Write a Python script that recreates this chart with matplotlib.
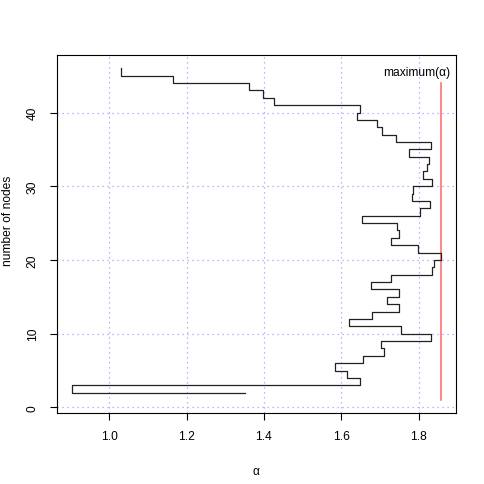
import matplotlib
matplotlib.use("Agg")
import matplotlib.pyplot as plt
import numpy as np

# number of nodes and estimated alpha at each node count
nodes = list(range(2, 47))
alpha = [1.351, 0.903, 1.648, 1.614, 1.583, 1.657, 1.711, 1.701, 1.832, 1.754,
         1.619, 1.680, 1.748, 1.719, 1.748, 1.676, 1.729, 1.834, 1.840, 1.857,
         1.797, 1.729, 1.750, 1.743, 1.654, 1.802, 1.830, 1.783, 1.786, 1.833,
         1.810, 1.822, 1.826, 1.774, 1.831, 1.740, 1.706, 1.692, 1.639, 1.649,
         1.426, 1.397, 1.362, 1.165, 1.031]
x_ticks = [1.0, 1.2, 1.4, 1.6, 1.8]
y_ticks = [0, 10, 20, 30, 40]
max_line_nodes = [1, 44]

plt.rcParams['font.family'] = ['Liberation Sans', 'DejaVu Sans']
fs = 8.64

fig = plt.figure(figsize=(4.85, 4.85), dpi=100)
ax = fig.add_axes([0.117, 0.1458, 0.8226, 0.7387])

amin, amax = min(alpha), max(alpha)
xr = amax - amin
ax.set_xlim(amin - 0.04 * xr, amax + 0.04 * xr)
ymin, ymax = 1, max(nodes)
yr = ymax - ymin
ax.set_ylim(ymin - 0.04 * yr, ymax + 0.04 * yr)

for t in x_ticks:
    ax.axvline(t, color='#a0a0ff', lw=0.9, ls=(0, (1, 3)), zorder=1)
for t in y_ticks:
    ax.axhline(t, color='#a0a0ff', lw=0.9, ls=(0, (1, 3)), zorder=1)

ax.step(alpha, nodes, where='post', color='#222222', lw=0.9, zorder=3)

ax.plot([amax, amax], max_line_nodes, color='#ff6464', lw=1.1, zorder=2)
ax.text(amax + 0.024, 45.45, 'maximum(α)', ha='right', va='center', fontsize=fs,
        zorder=4, clip_on=False)

ax.set_xticks(x_ticks)
ax.set_xticklabels([f"{t:.1f}" for t in x_ticks])
ax.set_yticks(y_ticks)
ax.set_yticklabels([str(t) for t in y_ticks], rotation=90, va='center')
ax.tick_params(direction='out', length=5.0, width=0.8, labelsize=fs, colors='black')
ax.tick_params(axis='x', pad=7)
ax.tick_params(axis='y', pad=8)
for s in ax.spines.values():
    s.set_linewidth(0.8)
    s.set_color('black')

ax.set_xlabel('α', fontsize=fs)
ax.xaxis.set_label_coords(0.5, -0.145)
ax.set_ylabel('number of nodes', fontsize=fs)
ax.yaxis.set_label_coords(-0.108, 0.54)

fig.savefig('out.png', dpi=100, facecolor='white')
